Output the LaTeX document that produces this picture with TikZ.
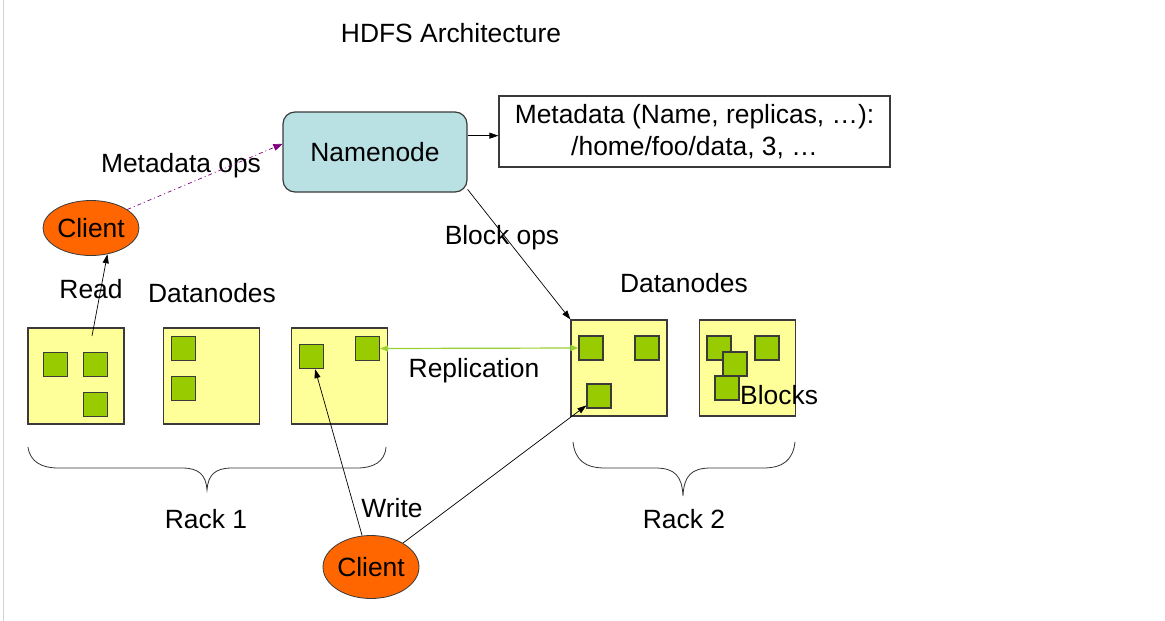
\documentclass[tikz,border=0pt]{standalone}
\usepackage{fontspec}
\setmainfont{Liberation Sans}
\usetikzlibrary{arrows.meta,shapes.geometric}
\definecolor{nnfill}{HTML}{B9E0E3}
\definecolor{clfill}{HTML}{FF6600}
\definecolor{dnfill}{HTML}{FFFF99}
\definecolor{blkfill}{HTML}{99CC00}
\definecolor{bord}{HTML}{3A3A3A}
\definecolor{purp}{HTML}{800080}
\definecolor{repl}{HTML}{99D033}
\begin{document}
\begin{tikzpicture}[x=1pt,y=-1pt,
  font=\fontsize{26.4}{32}\selectfont,
  lbl/.style={anchor=base, inner sep=0},
  dnbox/.style={draw=bord, fill=dnfill, line width=1.2pt, minimum width=96pt, minimum height=96pt, inner sep=0},
  blk/.style={draw=bord, fill=blkfill, line width=1.2pt, minimum width=24pt, minimum height=24pt, inner sep=0},
  client/.style={ellipse, draw=bord, fill=clfill, line width=0.8pt, minimum width=96pt, minimum height=55pt, inner sep=0},
  conn/.style={draw=black, line width=0.7pt, -{Triangle[length=9pt,width=6pt]}},
  brace/.style={draw=black!80, line width=0.8pt}
]
\useasboundingbox (0,0) rectangle (1165,621);
\draw[black!18, line width=1pt] (3,0) -- (3,621);

% title
\node[lbl] (title) at (451,42) {HDFS Architecture};

% namenode and metadata
\node[draw=bord, fill=nnfill, rounded corners=12pt, line width=1.2pt, minimum width=184pt, minimum height=80pt, inner sep=0] (nn) at (375,152) {Namenode};
\node[draw=bord, fill=white, line width=1.2pt, minimum width=391pt, minimum height=71pt, inner sep=0, align=center] (meta) at (694.5,131.5) {Metadata (Name, replicas, …):\\/home/foo/data, 3, …};

% clients
\node[client] (c1) at (91,228) {Client};
\node[client, minimum height=63pt] (c2) at (371,567) {Client};

% rack 1 datanodes
\node[dnbox] (r1a) at (76,376) {};
\node[dnbox] (r1b) at (211.5,376) {};
\node[dnbox] (r1c) at (339.5,376) {};
% rack 2 datanodes
\node[dnbox] (r2a) at (619,368) {};
\node[dnbox] (r2b) at (747.5,368) {};

% blocks
\node[blk] (b1) at (55.5,364.5) {};
\node[blk] (b2) at (95.5,364.5) {};
\node[blk] (b3) at (95.5,404.5) {};
\node[blk] (b4) at (183.5,348.5) {};
\node[blk] (b5) at (183.5,388.5) {};
\node[blk] (b6) at (311.5,356.5) {};
\node[blk] (b7) at (367.5,348.5) {};
\node[blk] (b8) at (591,348) {};
\node[blk] (b9) at (647,348) {};
\node[blk] (b10) at (599,396) {};
\node[blk] (b11) at (719,348) {};
\node[blk] (b12) at (767,348) {};
\node[blk] (b13) at (735,364) {};
\node[blk] (b14) at (727,388) {};

% labels
\node[lbl] (lmops) at (181,172) {Metadata ops};
\node[lbl] (lbops) at (502,244) {Block ops};
\node[lbl] (lread) at (91,298) {Read};
\node[lbl] (ldn1) at (212,302) {Datanodes};
\node[lbl] (ldn2) at (684,292) {Datanodes};
\node[lbl] (lrepl) at (474,377) {Replication};
\node[lbl, anchor=base west] (lblocks) at (740,404) {Blocks};
\node[lbl] (lwrite) at (392,517) {Write};
\node[lbl] (lrack1) at (206,528) {Rack 1};
\node[lbl] (lrack2) at (684,528) {Rack 2};

% connectors
\coordinate (readS) at (92,336);
\draw[conn] (readS) -- (c1.-58);
\draw[conn, draw=purp, dash pattern=on 4pt off 3pt on 1pt off 3pt, -{Triangle[length=9pt,width=7pt]}] (c1.27) -- (nn.175.6);
\draw[conn] (nn.10) -- (nn.10 -| meta.west);
\draw[conn] (nn.-22) -- (r2a.north west);
\draw[draw=repl, line width=1.2pt, {Triangle[length=8pt,width=6pt]}-{Triangle[length=8pt,width=6pt]}] (b7.east) -- (b8.west);
\draw[conn] (c2) -- (b6);
\draw[conn] (c2) -- (b10);

% braces
\draw[brace] (28,447) .. controls (30,462) and (42,468) .. (58,468) -- (182,468)
  .. controls (199,468) and (206,475) .. (207,490)
  .. controls (208,475) and (215,468) .. (232,468) -- (357,468)
  .. controls (373,468) and (385,462) .. (386,447);
\draw[brace] (573,442) .. controls (575,460) and (585,468) .. (605,468) -- (655,468)
  .. controls (675,468) and (682,476) .. (683,496)
  .. controls (684,476) and (691,468) .. (711,468) -- (763,468)
  .. controls (783,468) and (793,460) .. (795,442);
\end{tikzpicture}
\end{document}
